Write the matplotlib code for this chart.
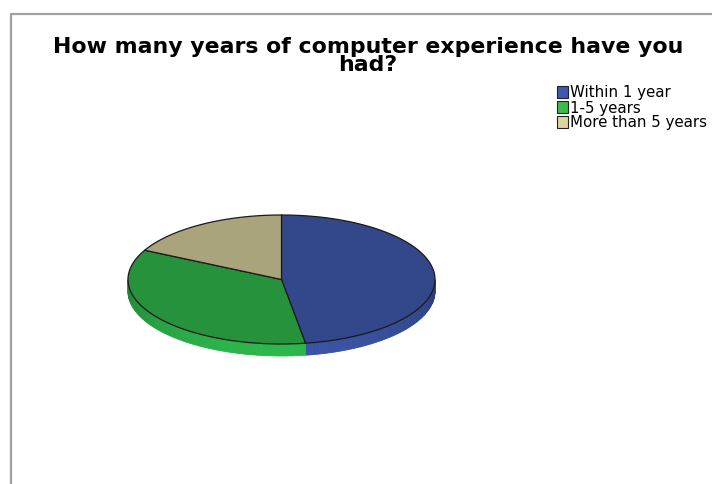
import numpy as np
import matplotlib.pyplot as plt
from matplotlib.patches import Polygon, Rectangle
from matplotlib.colors import to_rgb

# data (percent)
categories = ['Within 1 year', '1-5 years', 'More than 5 years']
shares = [47.5, 35.0, 17.5]
top_colors = ['#33478b', '#26923c', '#a9a47b']
side_colors = ['#3a52a2', '#2cb34a', '#c2bd8e']
legend_colors = ['#3f58b0', '#3dbb4d', '#dbd5a0']
title = 'How many years of computer experience have you\nhad?'

fig = plt.figure(figsize=(7.12, 4.85), dpi=100)
ax = fig.add_axes([0, 0, 1, 1])
ax.set_xlim(0, 712)
ax.set_ylim(485, 0)
ax.axis('off')

# frame of the chart window
ax.plot([11, 11, 712], [485, 15, 15], color='#a0a0a0', lw=1.6, solid_capstyle='butt')

cx, cy, rx, ry, depth = 281.5, 280.5, 153.5, 64.5, 12


def pt(t, dy=0.0):
    # t measured clockwise from 12 o'clock
    return cx + rx * np.sin(t), cy - ry * np.cos(t) + dy


bounds = np.concatenate([[0], np.cumsum(shares)]) / sum(shares) * 2 * np.pi

# side walls (front half only)
for i in range(len(shares)):
    a0 = max(bounds[i], np.pi / 2)
    a1 = min(bounds[i + 1], 3 * np.pi / 2)
    if a1 <= a0:
        continue
    ts = np.linspace(a0, a1, 60)
    base = np.array(to_rgb(side_colors[i]))
    for t0, t1 in zip(ts[:-1], ts[1:]):
        tm = (t0 + t1) / 2
        f = 0.72 + 0.3 * (-np.cos(tm))
        col = np.clip(base * f, 0, 1)
        x0, y0 = pt(t0)
        x1, y1 = pt(t1)
        quad = [(x0, y0), (x1, y1), (x1, y1 + depth), (x0, y0 + depth)]
        ax.add_patch(Polygon(quad, closed=True, facecolor=col, edgecolor=col, lw=0.6))

# top faces
for i in range(len(shares)):
    ts = np.linspace(bounds[i], bounds[i + 1], 120)
    xs, ys = pt(ts)
    verts = [(cx, cy)] + list(zip(xs, ys))
    ax.add_patch(Polygon(verts, closed=True, facecolor=top_colors[i],
                         edgecolor='#1a1a1a', lw=0.9, joinstyle='round'))

ax.text(368, 56, title, ha='center', va='center', fontsize=15.8, fontweight='bold',
        family='DejaVu Sans', linespacing=0.92)

# legend
for i, (name, col) in enumerate(zip(categories, legend_colors)):
    y = 93 + i * 15
    ax.add_patch(Rectangle((557, y - 6), 11, 12, facecolor=col, edgecolor='#222222', lw=0.8))
    ax.text(570, y, name, ha='left', va='center', fontsize=10.8, family='DejaVu Sans',
            clip_on=False)

fig.savefig('out.png', dpi=100)
